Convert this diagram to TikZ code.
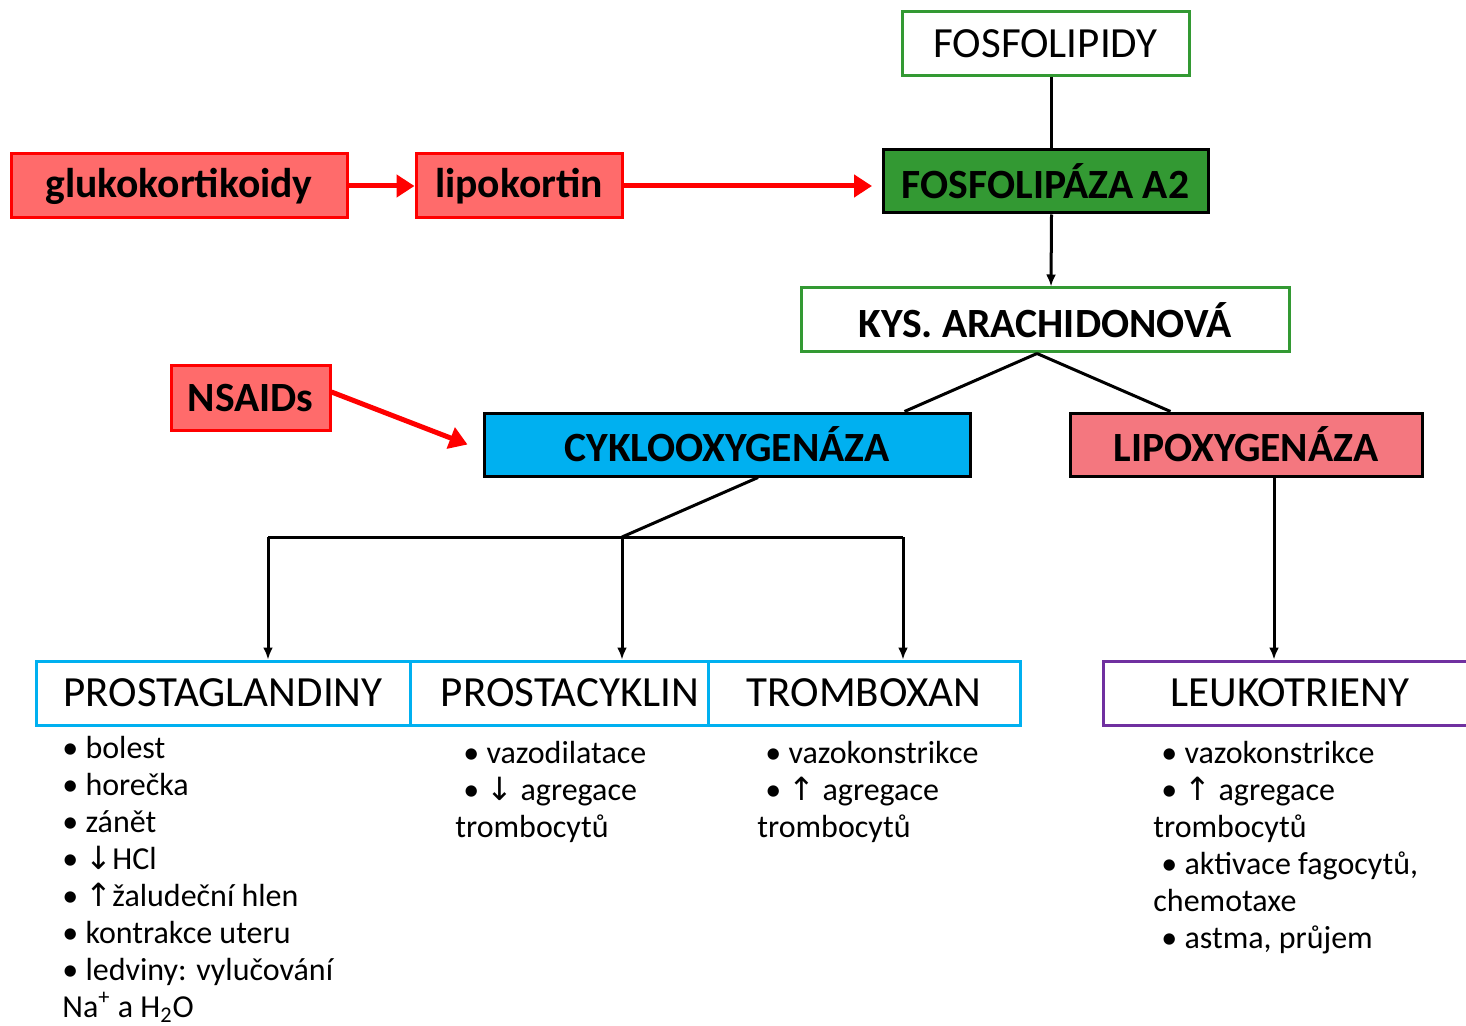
\documentclass[tikz,border=0pt]{standalone}
\usepackage{fontspec}
\setmainfont{Carlito}
\newfontfamily\arrowfont{DejaVu Sans}
\usetikzlibrary{arrows.meta}
\definecolor{zelena}{HTML}{339933}
\definecolor{modra}{HTML}{00B0F0}
\definecolor{ruzova}{HTML}{F4777F}
\definecolor{cervena}{HTML}{FF6B6B}
\definecolor{fialova}{HTML}{7030A0}

\begin{document}
\begin{tikzpicture}[x=0.5pt,y=-0.5pt,
  box/.style={line width=1.5pt, minimum height=32pt, inner sep=0pt, font={\fontsize{21.5}{24}\selectfont}},
  boldbox/.style={box, font={\fontsize{20.8}{24}\selectfont\bfseries}},
  redbox/.style={boldbox, draw=red, fill=cervena},
  list/.style={anchor=base west, align=left, inner sep=0pt, font={\fontsize{16}{18.5}\selectfont}},
  line/.style={line width=1.5pt},
  arrow/.style={line width=1.5pt, -{Latex[length=6pt,width=5pt]}},
  redarrow/.style={line width=2.5pt, red, -{Triangle[length=9pt,width=11pt]}}]
\useasboundingbox (0,0) rectangle (1466,1026);
\clip (0,0) rectangle (1466,1026);
\node[box, draw=zelena, minimum width=143.5pt] (1) at (1045.5,44) {FOSFOLIPIDY};
\node[boldbox, draw, fill=zelena, minimum width=162.5pt, minimum height=31.5pt] (2) at (1045.5,181.5) {FOSFOLIPÁZA A2};
\node[boldbox, draw=zelena, minimum width=244pt] (3) at (1045,320) {KYS. ARACHIDONOVÁ};
\node[boldbox, draw, fill=modra, minimum width=243pt, minimum height=31.5pt] (4) at (727,444.5) {CYKLOOXYGENÁZA};
\node[boldbox, draw, fill=ruzova, minimum width=176pt, minimum height=31.5pt] (5) at (1246,444.5) {LIPOXYGENÁZA};
\node[redbox, minimum width=168pt] (6) at (179,186) {glukokortikoidy};
\node[redbox, minimum width=103pt] (7) at (519,186) {lipokortin};
\node[redbox, minimum width=79.5pt] (8) at (250.5,398) {NSAIDs};
\node[box, draw=modra, minimum width=187pt] (9) at (223,693) {PROSTAGLANDINY};
\node[box, draw=modra, minimum width=149pt] (10) at (559,693) {\hspace{11pt}PROSTACYKLIN};
\node[box, draw=modra, minimum width=156pt] (11) at (864,693) {TROMBOXAN};
\node[box, draw=fialova, minimum width=187pt] (12) at (1290,693) {LEUKOTRIENY};
% seznamy ucinku (base = posledni radek)
\node[list] (13) at (62,1017) {• bolest\\ • horečka\\ • zánět\\ • {\arrowfont ↓}HCl\\ • {\arrowfont ↑}žaludeční hlen\\ • kontrakce uteru\\ • ledviny: vylučování\\ Na\textsuperscript{+} a H\textsubscript{2}O};
\node[list] (14) at (455,837) {\hspace{4pt}• vazodilatace\\ \hspace{4pt}• {\arrowfont ↓} agregace\\ trombocytů};
\node[list] (15) at (757,837) {\hspace{4pt}• vazokonstrikce\\ \hspace{4pt}• {\arrowfont ↑} agregace\\ trombocytů};
\node[list] (16) at (1153,948) {\hspace{4pt}• vazokonstrikce\\ \hspace{4pt}• {\arrowfont ↑} agregace\\ trombocytů\\ \hspace{4pt}• aktivace fagocytů,\\ chemotaxe\\ \hspace{4pt}• astma, průjem};
% spojnice
\coordinate (j) at (622,537);
\coordinate (jl) at (268,537);
\coordinate (jr) at (903,537);
\coordinate (r) at (872,186);
\path[draw,line] ([xshift=3pt]1.south) -- ([xshift=3pt]2.north);
\path[draw,arrow] ([xshift=3pt]2.south) -- ([xshift=3pt]3.north);
\path[draw,line] ([xshift=-4pt]3.south) -- ([xshift=-33.5pt]4.north east);
\path[draw,line] ([xshift=-4pt]3.south) -- ([xshift=51pt]5.north west);
\path[draw,line] ([xshift=15.5pt]4.south) -- (j);
\path[draw,line] (jl) -- (jr);
\path[draw,arrow] (jl) -- (jl |- 9.north);
\path[draw,arrow] (j) -- (j |- 10.north);
\path[draw,arrow] (jr) -- (jr |- 11.north);
\path[draw,arrow] ([xshift=14pt]5.south) -- ([xshift=14pt]5.south |- 12.north);
\path[draw,redarrow] (6) -- (7);
\path[draw,redarrow] (7.east) -- (r);
\path[draw,redarrow] ([yshift=3pt]8.east) -- ([xshift=-7.5pt]4.west);
\end{tikzpicture}
\end{document}
